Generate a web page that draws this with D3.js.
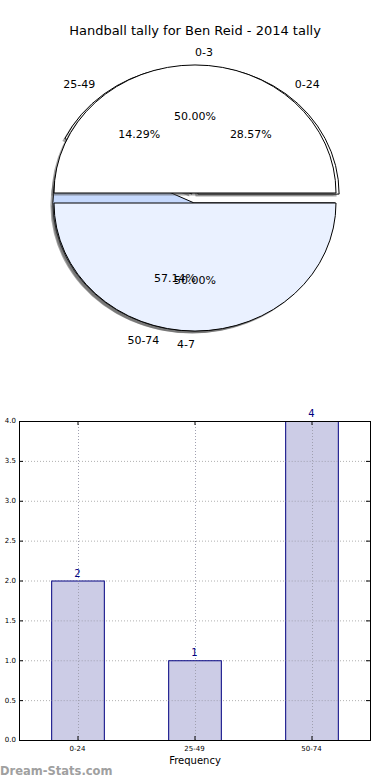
<!DOCTYPE html>
<html><head><meta charset="utf-8">
<script src="https://cdn.jsdelivr.net/npm/d3@7"></script>
<style>body{margin:0;background:#fff}svg{display:block}text{font-family:"DejaVu Sans",sans-serif}</style>
</head><body>
<svg id="c" width="390" height="780"></svg>
<script>
const title = "Handball tally for Ben Reid - 2014 tally";
const rangeLabels = ["0-24","25-49","50-74"];
const rangeValues = [2,1,4];
const quarterLabels = ["0-3","4-7"];
const quarterValues = [1,1];
const yTicks = [0,0.5,1,1.5,2,2.5,3,3.5,4];

const svg = d3.select("#c");
svg.append("text").attr("x",195).attr("y",35).attr("text-anchor","middle")
  .attr("font-size",13).text(title);

// ---- pies ----
const cx = 195, cy = 198, rx = 141, ry = 128, k = ry/rx;
const pie = d3.pie().sort(null).value(d=>d).startAngle(Math.PI/2).endAngle(Math.PI/2-2*Math.PI);
const arc = d3.arc().innerRadius(0).outerRadius(rx);

function drawPie(values, labels, colors, explode){
  const g = svg.append("g");
  const arcs = pie(values);
  const total = d3.sum(values);
  arcs.forEach((a,i)=>{
    const m = (a.startAngle+a.endAngle)/2;
    const dx = Math.sin(m)*explode, dy = -Math.cos(m)*explode;
    // shadow
    g.append("path").attr("d",arc(a))
      .attr("transform",`translate(${cx+dx-2.5},${cy+dy+2.5}) scale(1,${k})`)
      .attr("fill","#4c4c4c").attr("fill-opacity",0.5);
    g.append("path").attr("d",arc(a))
      .attr("transform",`translate(${cx+dx},${cy+dy}) scale(1,${k})`)
      .attr("fill",colors[i]).attr("stroke","#000").attr("stroke-width",1)
      .attr("vector-effect","non-scaling-stroke");
  });
  return arcs.map((a,i)=>{
    const m = (a.startAngle+a.endAngle)/2;
    const ex = Math.sin(m)*explode, ey = -Math.cos(m)*explode;
    return {m, ex, ey, label:labels[i], pct:(values[i]/total*100).toFixed(2)+"%"};
  });
}
const t1 = drawPie(rangeValues, rangeLabels, ["#ffffff","#ffffff","#c6d9fd"], 5);
const t2 = drawPie(quarterValues, quarterLabels, ["#ffffff","#eaf1ff"], 5);
const tg = svg.append("g").attr("font-size",11);
[...t1,...t2].forEach(t=>{
  const s = Math.sin(t.m);
  const lx = cx+t.ex+1.1*rx*s, ly = cy+t.ey-1.1*ry*Math.cos(t.m);
  tg.append("text").attr("x",lx).attr("y",ly).attr("dy","0.35em")
    .attr("text-anchor", s>=0 ? "start":"end").text(t.label);
  const px = cx+t.ex+0.6*rx*s, py = cy+t.ey-0.6*ry*Math.cos(t.m);
  tg.append("text").attr("x",px).attr("y",py).attr("dy","0.35em")
    .attr("text-anchor","middle").text(t.pct);
});

// ---- bar chart ----
const L=19, R=370, T=421, B=740;
const x = d3.scaleBand().domain(rangeLabels).range([L,R]);
const y = d3.scaleLinear().domain([0,4]).range([B,T]);
const bw = x.bandwidth()*0.45;
const grid = svg.append("g").attr("stroke","#b0b0b0").attr("stroke-dasharray","1,2").attr("stroke-width",1);
yTicks.forEach(v=>grid.append("line").attr("x1",L).attr("x2",R).attr("y1",y(v)+0.5).attr("y2",y(v)+0.5));
rangeLabels.forEach(c=>{const xc=Math.round(x(c)+x.bandwidth()/2)+0.5;
  grid.append("line").attr("x1",xc).attr("x2",xc).attr("y1",T).attr("y2",B);});
svg.append("g").selectAll("rect").data(rangeValues).join("rect")
  .attr("x",(d,i)=>x(rangeLabels[i])+x.bandwidth()/2-bw/2+0.5)
  .attr("y",d=>y(d)+0.5).attr("width",bw).attr("height",d=>B-y(d))
  .attr("fill","#ccccE6").attr("stroke","#000080").attr("stroke-width",1);
// redraw vertical grid over bars (matplotlib grid above)
rangeLabels.forEach(c=>{const xc=Math.round(x(c)+x.bandwidth()/2)+0.5;
  svg.append("line").attr("x1",xc).attr("x2",xc).attr("y1",T).attr("y2",B)
   .attr("stroke","#a0a0b0").attr("stroke-dasharray","1,2");});
yTicks.forEach(v=>{const bi=rangeValues.map((d,i)=>i).filter(i=>rangeValues[i]>v);
  bi.forEach(i=>{const x0=x(rangeLabels[i])+x.bandwidth()/2-bw/2+0.5;
   svg.append("line").attr("x1",x0).attr("x2",x0+bw).attr("y1",y(v)+0.5).attr("y2",y(v)+0.5)
    .attr("stroke","#a0a0b0").attr("stroke-dasharray","1,2");});});
svg.append("g").selectAll("text").data(rangeValues).join("text")
  .attr("x",(d,i)=>x(rangeLabels[i])+x.bandwidth()/2).attr("y",d=>y(d)-4)
  .attr("text-anchor","middle").attr("font-size",10).attr("fill","#000080").text(d=>d);
svg.append("rect").attr("x",L+0.5).attr("y",T+0.5).attr("width",R-L).attr("height",B-T)
  .attr("fill","none").attr("stroke","#000").attr("stroke-width",1);
const ax = svg.append("g").attr("font-size",7);
yTicks.forEach(v=>{
  ax.append("text").attr("x",16).attr("y",y(v)).attr("dy","0.35em").attr("text-anchor","end").text(v.toFixed(1));
  ax.append("line").attr("x1",L).attr("x2",L+4).attr("y1",y(v)+0.5).attr("y2",y(v)+0.5).attr("stroke","#000");
  ax.append("line").attr("x1",R-4).attr("x2",R).attr("y1",y(v)+0.5).attr("y2",y(v)+0.5).attr("stroke","#000");
});
rangeLabels.forEach(c=>{const xc=x(c)+x.bandwidth()/2;
  ax.append("text").attr("x",xc).attr("y",751).attr("text-anchor","middle").text(c);
  ax.append("line").attr("x1",xc+0.5).attr("x2",xc+0.5).attr("y1",B-4).attr("y2",B).attr("stroke","#000");
  ax.append("line").attr("x1",xc+0.5).attr("x2",xc+0.5).attr("y1",T).attr("y2",T+4).attr("stroke","#000");
});
svg.append("text").attr("x",195).attr("y",764).attr("text-anchor","middle").attr("font-size",10).text("Frequency");
svg.append("text").attr("x",0).attr("y",775).attr("font-size",11.5).attr("font-weight","bold")
  .attr("fill","#a0a0a0").text("Dream-Stats.com");
</script>
</body></html>
